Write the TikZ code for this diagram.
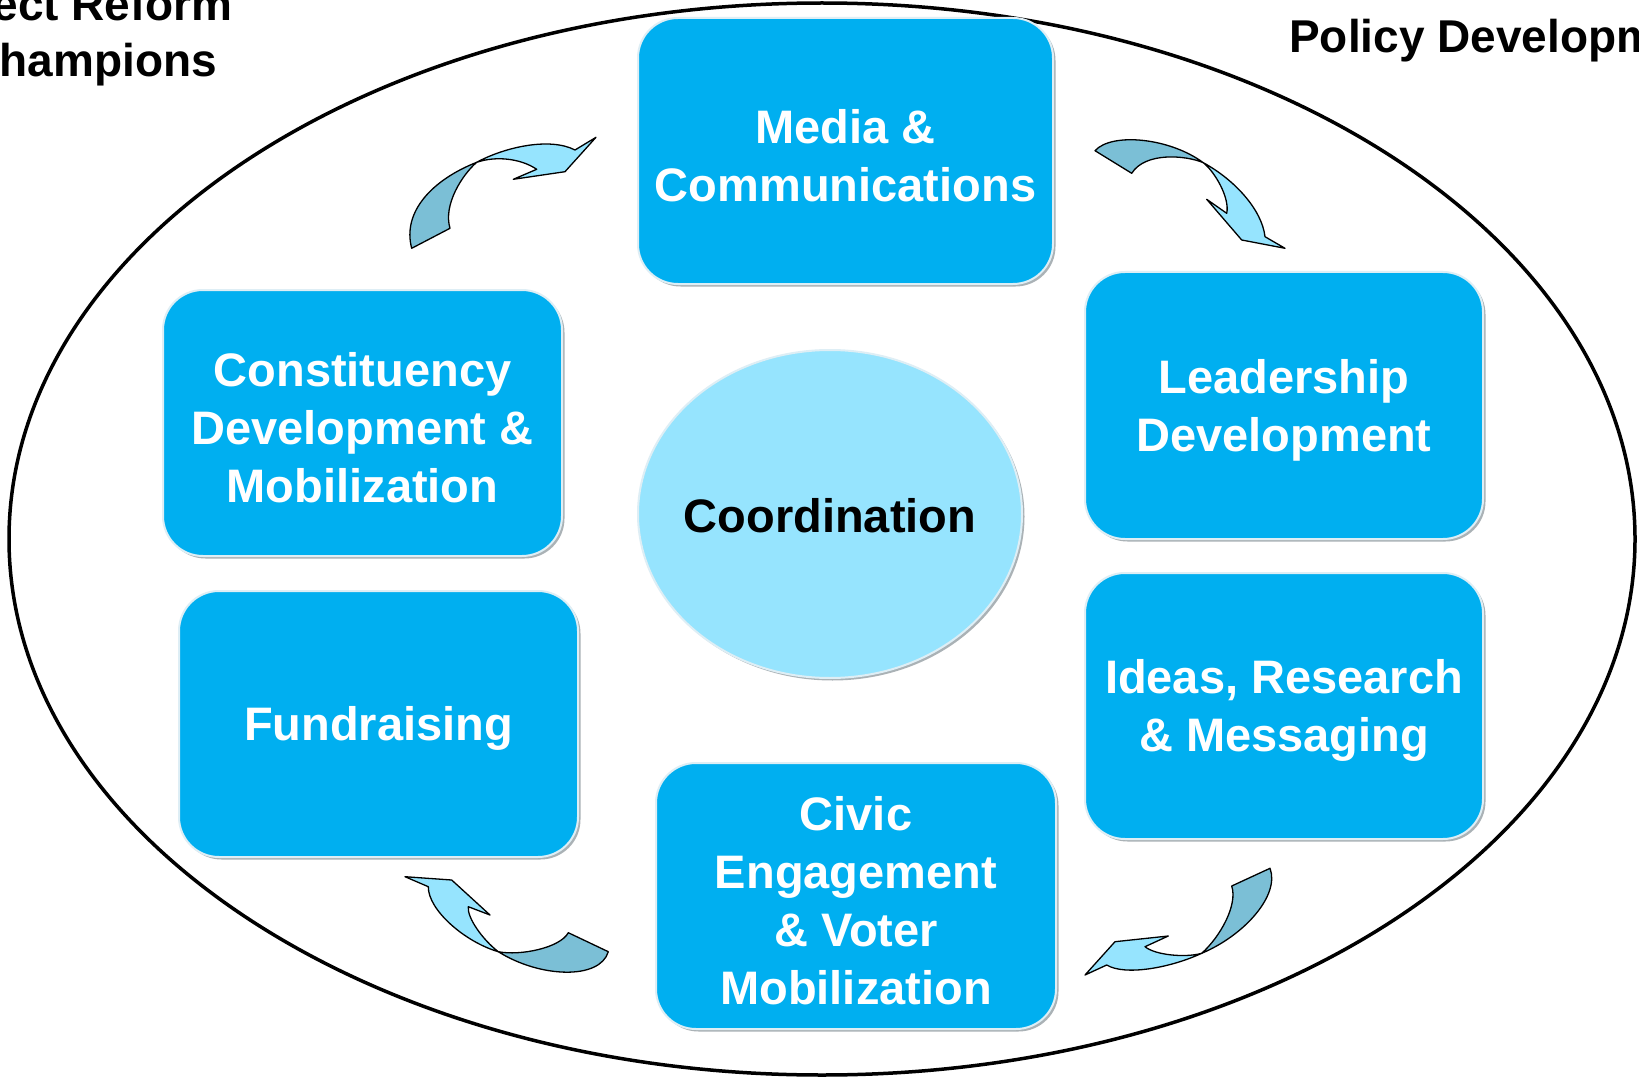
\documentclass[tikz,border=0pt]{standalone}
\usepackage{fontspec}
\setmainfont{Liberation Sans}
\usetikzlibrary{shapes.geometric,shadows}
\definecolor{boxblue}{RGB}{0,175,240}
\definecolor{lightcyan}{RGB}{150,228,254}
\definecolor{darkcyan}{RGB}{123,191,214}
\definecolor{paleedge}{RGB}{222,238,245}
\definecolor{shadowgray}{RGB}{170,178,182}
\newcommand{\topstrut}{\rule{0pt}{43pt}}
\begin{document}
\begin{tikzpicture}[x=1pt,y=-1pt,
  boxnode/.style={rectangle, rounded corners=40pt, fill=boxblue, draw=paleedge,
    line width=2pt, text=white, align=center, inner sep=0pt,
    font=\fontsize{47}{58}\selectfont\bfseries,
    drop shadow={shadow xshift=2.5pt, shadow yshift=-2.5pt, fill=shadowgray, opacity=1}},
  centernode/.style={ellipse, fill=lightcyan, draw=paleedge, line width=2pt,
    text=black, inner sep=0pt, font=\fontsize{47}{57}\selectfont\bfseries,
    drop shadow={shadow xshift=2.5pt, shadow yshift=-2.5pt, fill=shadowgray, opacity=1}},
  cornertext/.style={inner sep=0pt, text=black, font=\fontsize{46}{52}\selectfont\bfseries},
  arrowlight/.style={fill=lightcyan, draw=black, line width=1.3pt, line join=round},
  arrowdark/.style={fill=darkcyan, draw=black, line width=1.3pt, line join=round},
  outerring/.style={draw=black, fill=white, line width=3.5pt}
]
\useasboundingbox (0,0) rectangle (1639,1078);
\fill[white] (0,0) rectangle (1639,1078);

% outer ellipse
\draw[outerring] (822,539) ellipse [x radius=813pt, y radius=536pt];

% corner texts
\node[cornertext, anchor=base east] (tl1) at (233,21) {ect Reform};
\node[cornertext, anchor=base east] (tl2) at (217,77) {hampions};
\node[cornertext, anchor=base west] (tr1) at (1289,53) {Policy Developm};

% arrow 1 (top-left)
\draw[arrowdark] (411.7,248.3) .. controls (402,212) and (432,180) .. (476.7,162.3)
  .. controls (462,175) and (443,205) .. (450,228.3) -- cycle;
\draw[arrowlight] (476.7,162.3) .. controls (505,147) and (550,137) .. (575,150)
  -- (596,137.3) -- (565,171.7) -- (513.3,179.3) -- (536.7,169.3)
  .. controls (520,158) and (495,156) .. (476.7,162.3) -- cycle;

% arrow 2 (top-right)
\draw[arrowdark] (1095,150.7) .. controls (1112,132) and (1170,138) .. (1203.3,162.7)
  .. controls (1185,155) and (1145,152) .. (1131.7,173.3) -- cycle;
\draw[arrowlight] (1203.3,162.7) .. controls (1235,180) and (1262,210) .. (1265,236.7)
  -- (1285,248.3) -- (1241.7,240) -- (1206.7,199.3) -- (1226.7,213.3)
  .. controls (1230,198) and (1215,172) .. (1203.3,162.7) -- cycle;

% arrow 3 (bottom-right)
\draw[arrowdark] (1270,868.3) .. controls (1280,895) and (1245,935) .. (1201.7,953.3)
  .. controls (1220,937) and (1238,905) .. (1231.7,886) -- cycle;
\draw[arrowlight] (1201.7,953.3) .. controls (1170,968) and (1125,976) .. (1106.7,965)
  -- (1085,975) -- (1115,941.7) -- (1168.3,936) -- (1145,946.7)
  .. controls (1155,955) and (1185,958) .. (1201.7,953.3) -- cycle;

% arrow 4 (bottom-left)
\draw[arrowdark] (498.3,951.7) .. controls (540,978) and (600,980) .. (608.3,951.7)
  -- (568.3,932.7) .. controls (560,948) and (520,956) .. (498.3,951.7) -- cycle;
\draw[arrowlight] (405,876.7) -- (428.3,886.7)
  .. controls (428,910) and (465,942) .. (498.3,951.7)
  .. controls (483,940) and (467,918) .. (468.3,906.7)
  -- (490,915) -- (451.7,880) -- cycle;

% boxes
\node[boxnode, minimum width=415pt, minimum height=266pt] (media) at (845.5,151) {\topstrut Media \&\\Communications};
\node[boxnode, minimum width=398pt, minimum height=267pt] (lead) at (1284,405.5) {\topstrut Leadership\\Development};
\node[boxnode, minimum width=398pt, minimum height=266pt] (ideas) at (1284,706) {\topstrut Ideas, Research\\\& Messaging};
\node[boxnode, minimum width=400pt, minimum height=266pt] (civic) at (856,896) {\topstrut Civic\\Engagement\\\& Voter\\Mobilization};
\node[boxnode, minimum width=399pt, minimum height=266pt] (fund) at (378.5,724) {\topstrut Fundraising};
\node[boxnode, minimum width=399pt, minimum height=266pt] (const) at (362.5,423) {\topstrut Constituency\\Development \&\\Mobilization};

% center
\node[centernode, minimum width=384pt, minimum height=328pt] (coord) at (830,514) {\makebox[0pt]{\rule{0pt}{38pt}Coordination}};
\end{tikzpicture}
\end{document}
